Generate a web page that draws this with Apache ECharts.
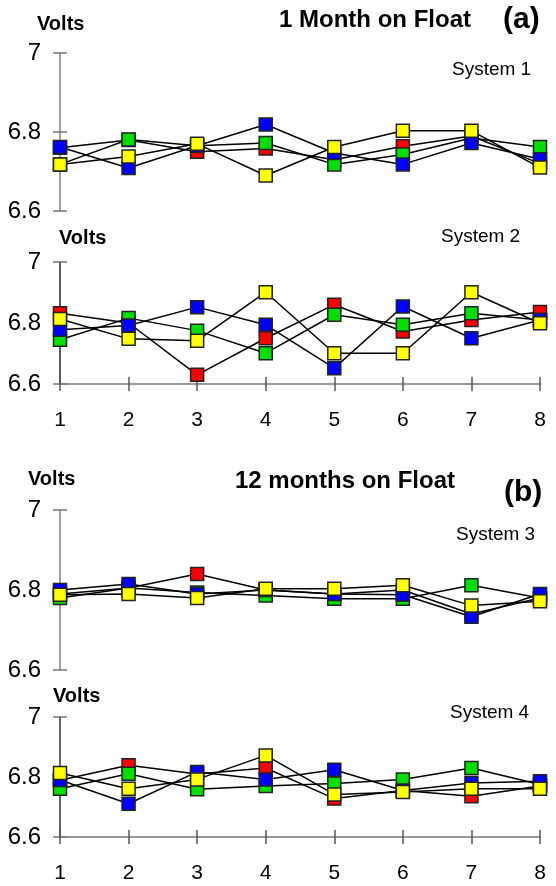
<!DOCTYPE html>
<html>
<head>
<meta charset="utf-8">
<script src="https://cdn.jsdelivr.net/npm/echarts@6/dist/echarts.min.js"></script>
<style>
html,body{margin:0;padding:0;background:#fff;}
#chart{width:556px;height:886px;}
</style>
</head>
<body>
<div id="chart"></div>
<script>
// Data
var categories = ['1','2','3','4','5','6','7','8'];
var yTicks = [6.6, 6.8, 7];

var sys1Red    = [6.760, 6.780, 6.750, 6.758, 6.730, 6.764, 6.790, 6.720];
var sys1Green  = [6.718, 6.781, 6.765, 6.772, 6.718, 6.743, 6.785, 6.762];
var sys1Blue   = [6.762, 6.709, 6.765, 6.819, 6.747, 6.718, 6.772, 6.731];
var sys1Yellow = [6.718, 6.738, 6.770, 6.690, 6.762, 6.803, 6.803, 6.710];

var sys2Red    = [6.832, 6.800, 6.630, 6.750, 6.860, 6.772, 6.810, 6.836];
var sys2Green  = [6.745, 6.816, 6.775, 6.701, 6.827, 6.794, 6.832, 6.810];
var sys2Blue   = [6.778, 6.792, 6.852, 6.794, 6.652, 6.854, 6.750, 6.810];
var sys2Yellow = [6.813, 6.748, 6.742, 6.901, 6.701, 6.701, 6.901, 6.799];

var sys3Red    = [6.790, 6.805, 6.840, 6.800, 6.790, 6.800, 6.740, 6.780];
var sys3Green  = [6.780, 6.805, 6.794, 6.786, 6.778, 6.778, 6.812, 6.780];
var sys3Blue   = [6.800, 6.815, 6.790, 6.800, 6.790, 6.788, 6.733, 6.790];
var sys3Yellow = [6.788, 6.790, 6.780, 6.803, 6.803, 6.812, 6.761, 6.772];

var sys4Red    = [6.789, 6.839, 6.810, 6.830, 6.728, 6.755, 6.736, 6.770];
var sys4Green  = [6.761, 6.811, 6.759, 6.770, 6.778, 6.792, 6.830, 6.775];
var sys4Blue   = [6.790, 6.711, 6.817, 6.792, 6.824, 6.755, 6.780, 6.786];
var sys4Yellow = [6.813, 6.761, 6.792, 6.872, 6.742, 6.750, 6.761, 6.761];

var systems = [
  {red: sys1Red, green: sys1Green, blue: sys1Blue, yellow: sys1Yellow},
  {red: sys2Red, green: sys2Green, blue: sys2Blue, yellow: sys2Yellow},
  {red: sys3Red, green: sys3Green, blue: sys3Blue, yellow: sys3Yellow},
  {red: sys4Red, green: sys4Green, blue: sys4Blue, yellow: sys4Yellow}
];
var colors = {red: '#ff0000', green: '#00e000', blue: '#0000ff', yellow: '#ffff00'};
var seriesOrder = ['red', 'green', 'blue', 'yellow'];

// Layout
var grids = [
  {top: 53, height: 158, showX: false, yLine: '#808080'},
  {top: 262, height: 122, showX: true, yLine: '#222222'},
  {top: 510, height: 160, showX: false, yLine: '#808080'},
  {top: 717, height: 120, showX: true, yLine: '#333333'}
];
var FONT = 'Liberation Sans, Arial, sans-serif';

var option = {
  animation: false,
  backgroundColor: '#ffffff',
  grid: [], xAxis: [], yAxis: [], series: [],
  graphic: []
};

grids.forEach(function (g, i) {
  option.grid.push({left: 60, width: 480, top: g.top, height: g.height});
  option.xAxis.push({
    type: 'category', gridIndex: i, data: categories, boundaryGap: false,
    show: g.showX,
    axisLine: {show: true, lineStyle: {color: '#777', width: 1.5}},
    axisTick: {show: true, inside: false, length: 7, alignWithLabel: true, lineStyle: {color: '#555', width: 1.5}},
    axisLabel: {show: true, margin: 26, fontSize: 21, color: '#000', fontFamily: FONT},
    splitLine: {show: false}
  });
  option.xAxis.push({
    type: 'category', gridIndex: i, data: categories, boundaryGap: false,
    show: g.showX, position: 'bottom',
    axisLine: {show: false},
    axisTick: {show: true, inside: true, length: 7, lineStyle: {color: '#555', width: 1.5}},
    axisLabel: {show: false}, splitLine: {show: false}
  });
  option.yAxis.push({
    type: 'value', gridIndex: i, min: 6.6, max: 7, interval: 0.2,
    axisLine: {show: true, lineStyle: {color: g.yLine, width: 1.5}},
    axisTick: {show: true, inside: false, length: 7, lineStyle: {color: '#777', width: 1.5}},
    axisLabel: {show: true, margin: 19, fontSize: 24, color: '#000', fontFamily: FONT,
      formatter: function (v) { var r = Math.round(v * 10) / 10; return yTicks.indexOf(r) >= 0 ? String(r) : ''; }},
    splitLine: {show: false}
  });
  option.yAxis.push({
    type: 'value', gridIndex: i, min: 6.6, max: 7, interval: 0.2, position: 'left',
    axisLine: {show: false},
    axisTick: {show: true, inside: true, length: 7, lineStyle: {color: '#777', width: 1.5}},
    axisLabel: {show: false}, splitLine: {show: false}
  });
  seriesOrder.forEach(function (c) {
    option.series.push({
      type: 'line', xAxisIndex: 2 * i, yAxisIndex: 2 * i,
      data: systems[i][c],
      symbol: 'rect', symbolSize: 13,
      lineStyle: {color: '#000', width: 1.5},
      itemStyle: {color: colors[c], borderColor: '#222', borderWidth: 1.5},
      z: 2
    });
  });
});

function txt(x, y, s, size, bold) {
  return {type: 'text', left: x, top: y, style: {text: s, fontSize: size, fontWeight: bold ? 'bold' : 'normal', fill: '#000', fontFamily: FONT}};
}
option.graphic = [
  txt(37, 14, 'Volts', 20, true),
  txt(279, 8, '1 Month on Float', 24, true),
  txt(503, 5, '(a)', 30, true),
  txt(452, 60, 'System 1', 19, false),
  txt(59, 228, 'Volts', 20, true),
  txt(441, 227, 'System 2', 19, false),
  txt(28, 469, 'Volts', 20, true),
  txt(235, 469, '12 months on Float', 24, true),
  txt(504, 478, '(b)', 30, true),
  txt(456, 525, 'System 3', 19, false),
  txt(53, 686, 'Volts', 20, true),
  txt(450, 703, 'System 4', 19, false)
];

var chart = echarts.init(document.getElementById('chart'), null, {renderer: 'canvas'});
chart.setOption(option);
</script>
</body>
</html>
